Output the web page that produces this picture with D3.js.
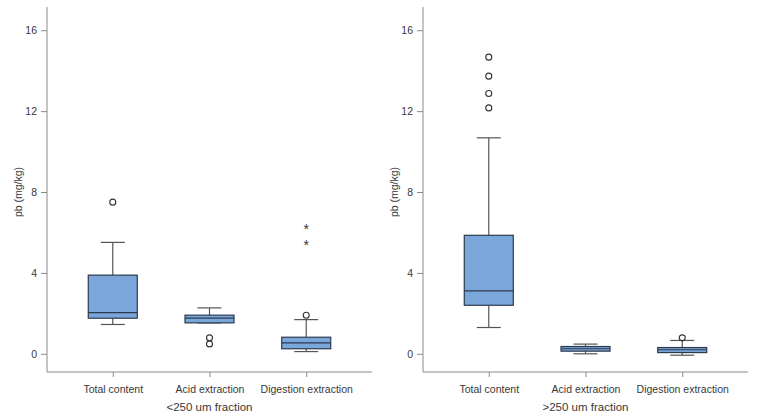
<!DOCTYPE html>
<html>
<head>
<meta charset="utf-8">
<script src="https://cdn.jsdelivr.net/npm/d3@7.9.0/dist/d3.min.js"></script>
<style>
  body { margin: 0; background: #fff; }
  svg { font-family: "Liberation Sans", Arial, sans-serif; }
  .axis text { fill: #383838; font-size: 10.5px; }
  .axis path, .axis line { stroke: #8a8a8a; }
</style>
</head>
<body>
<div id="chart"></div>
<script>
const categories = ['Total content', 'Acid extraction', 'Digestion extraction'];
const yTicks = [0, 4, 8, 12, 16];

// <250 um fraction: [whiskerLow, q1, median, q3, whiskerHigh]
const smallStats = [
  [1.45, 1.76, 2.04, 3.89, 5.51],
  [1.53, 1.53, 1.76, 1.91, 2.27],
  [0.11, 0.25, 0.54, 0.82, 1.69],
];
const smallOutliers = [[7.5], [0.79, 0.49], [1.91]];
const smallExtremes = [[], [], [6.24, 5.42]];

// >250 um fraction
const largeStats = [
  [1.3, 2.4, 3.11, 5.86, 10.68],
  [0.0, 0.13, 0.25, 0.36, 0.48],
  [-0.07, 0.06, 0.2, 0.31, 0.66],
];
const largeOutliers = [[14.67, 13.73, 12.87, 12.16], [], [0.79]];
const largeExtremes = [[], [], []];

const panels = [
  { title: '<250 um fraction', stats: smallStats, outliers: smallOutliers, extremes: smallExtremes, left: 47, right: 372 },
  { title: '>250 um fraction', stats: largeStats, outliers: largeOutliers, extremes: largeExtremes, left: 423, right: 748 },
];

const width = 767, height = 420;
const plotTop = 7, plotBottom = 372;

const svg = d3.select('#chart').append('svg')
  .attr('width', width).attr('height', height);

const y = d3.scaleLinear().domain([-0.9, 17.15]).range([plotBottom, plotTop]);

panels.forEach((p) => {
  const x = d3.scalePoint().domain(categories).range([p.left, p.right]).padding(0.68);
  const g = svg.append('g');

  g.append('g').attr('class', 'axis')
    .attr('transform', `translate(${p.left},0)`)
    .call(d3.axisLeft(y).tickValues(yTicks).tickSize(6).tickPadding(4).tickSizeOuter(0))
    .call((a) => a.select('.domain').attr('d', `M0,${plotTop}V${plotBottom}`));

  g.append('g').attr('class', 'axis')
    .attr('transform', `translate(0,${plotBottom})`)
    .call(d3.axisBottom(x).tickSize(5).tickPadding(9).tickSizeOuter(0))
    .call((a) => a.select('.domain').attr('d', `M${p.left},0H${p.right}`));

  g.append('text')
    .attr('transform', `translate(${p.left - 25},${y(8)}) rotate(-90)`)
    .attr('text-anchor', 'middle')
    .attr('fill', '#383838').attr('font-size', 10.5)
    .text('pb (mg/kg)');

  g.append('text')
    .attr('x', x(categories[1])).attr('y', 411)
    .attr('text-anchor', 'middle')
    .attr('fill', '#383838').attr('font-size', 11.5)
    .text(p.title);

  const boxW = 49, capW = 24;
  p.stats.forEach((s, i) => {
    const cx = x(categories[i]);
    const [lo, q1, med, q3, hi] = s;
    const w = g.append('g');
    w.append('line').attr('x1', cx).attr('x2', cx).attr('y1', y(hi)).attr('y2', y(q3))
      .attr('stroke', '#555').attr('stroke-width', 1.2);
    w.append('line').attr('x1', cx).attr('x2', cx).attr('y1', y(q1)).attr('y2', y(lo))
      .attr('stroke', '#555').attr('stroke-width', 1.2);
    w.append('line').attr('x1', cx - capW / 2).attr('x2', cx + capW / 2).attr('y1', y(hi)).attr('y2', y(hi))
      .attr('stroke', '#555').attr('stroke-width', 1.2);
    w.append('line').attr('x1', cx - capW / 2).attr('x2', cx + capW / 2).attr('y1', y(lo)).attr('y2', y(lo))
      .attr('stroke', '#555').attr('stroke-width', 1.2);
    w.append('rect')
      .attr('x', cx - boxW / 2).attr('width', boxW)
      .attr('y', y(q3)).attr('height', y(q1) - y(q3))
      .attr('fill', '#7aa6da').attr('stroke', '#2c3a4e').attr('stroke-width', 1.2);
    w.append('line').attr('x1', cx - boxW / 2).attr('x2', cx + boxW / 2).attr('y1', y(med)).attr('y2', y(med))
      .attr('stroke', '#2c3a4e').attr('stroke-width', 1.2);

    p.outliers[i].forEach((v) => {
      w.append('circle').attr('cx', cx).attr('cy', y(v)).attr('r', 3)
        .attr('fill', 'none').attr('stroke', '#333').attr('stroke-width', 1.1);
    });
    p.extremes[i].forEach((v) => {
      w.append('text').attr('x', cx).attr('y', y(v) + 6)
        .attr('text-anchor', 'middle').attr('font-size', 14).attr('fill', '#333')
        .text('*');
    });
  });
});
</script>
</body>
</html>
